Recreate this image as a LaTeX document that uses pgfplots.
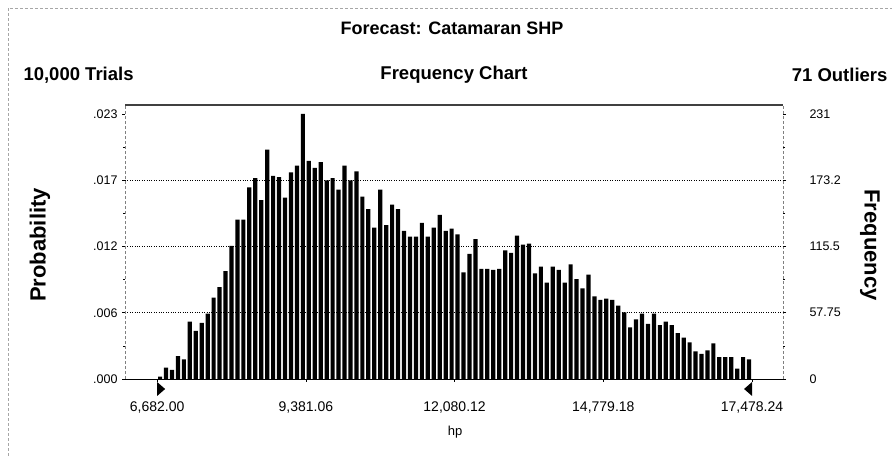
\documentclass[border=0pt]{standalone}
\usepackage{fontspec}
\setmainfont{Liberation Sans}
\usepackage{pgfplots}
\usepackage{pgfplotstable}
\pgfplotsset{compat=1.18}
\pgfplotstableread{
bin freq
1 2
2 10
3 8
4 20
5 17
6 50
7 42
8 49
9 57
10 71
11 80
12 94
13 116
14 139
15 139
16 167
17 175
18 156
19 200
20 177
21 176
22 158
23 180
24 186
25 231
26 190
27 184
28 189
29 173
30 175
31 165
32 186
33 173
34 181
35 159
36 148
37 132
38 165
39 134
40 152
41 148
42 129
43 124
44 124
45 136
46 124
47 132
48 143
49 129
50 131
51 126
52 93
53 109
54 122
55 96
56 96
57 95
58 96
59 112
60 110
61 125
62 117
63 118
64 92
65 98
66 84
67 98
68 95
69 84
70 100
71 87
72 79
73 91
74 72
75 69
76 70
77 69
78 64
79 58
80 45
81 52
82 57
83 48
84 57
85 47
86 50
87 47
88 40
89 36
90 32
91 24
92 22
93 25
94 31
95 19
96 19
97 19
98 9
99 19
100 17
}\freqdata
\begin{document}
\begin{tikzpicture}
\path[use as bounding box] (0pt,0pt) rectangle (895pt,460pt);
\draw[gray!70, densely dashed, line width=0.6pt] (8pt,4pt) -- (8pt,452pt) -- (892pt,452pt);
\node[font=\bfseries\fontsize{18}{21}\selectfont] at (452pt,432pt) {Forecast: Catamaran SHP};
\node[font=\bfseries\fontsize{18.5}{22}\selectfont, anchor=west] at (20pt,385pt) {10,000 Trials};
\node[font=\bfseries\fontsize{18.5}{22}\selectfont] at (454pt,385pt) {Frequency Chart};
\node[font=\bfseries\fontsize{18.5}{22}\selectfont, anchor=east] at (891pt,385pt) {71 Outliers};
\node[font=\bfseries\fontsize{22}{26}\selectfont, rotate=90] at (40pt,215pt) {Probability};
\node[font=\bfseries\fontsize{22}{26}\selectfont, rotate=-90] at (870pt,215pt) {Frequency};
\node[font=\fontsize{13}{15}\selectfont] at (455pt,28pt) {hp};
\begin{axis}[
  at={(125pt,81pt)}, anchor=south west,
  scale only axis, width=658pt, height=274pt,
  xmin=-4.9, xmax=105.7, ymin=0, ymax=238.8,
  axis line style={draw=none},
  ybar, bar width=4.2pt,
  xtick={0.5,25.5,50.5,75.5,100.5},
  xticklabels={{6,682.00},{9,381.06},{12,080.12},{14,779.18},{17,478.24}},
  ytick={0,57.75,115.5,173.25,231},
  yticklabels={.000,.006,.012,.017,.023},
  minor y tick num=1,
  extra y ticks={57.75,115.5,173.25},
  extra y tick labels={},
  extra y tick style={grid=major, major grid style={black, dotted, line width=1pt}, major tick length=0pt},
  tick align=outside,
  major tick length=3pt, minor tick length=2pt,
  tick style={black, line width=0.5pt},
  xtick pos=bottom, ytick pos=left,
  yticklabel style={font=\fontsize{12.5}{14}\selectfont, xshift=-1pt},
  xticklabel style={font=\fontsize{14}{16}\selectfont, yshift=-16pt},
  clip=false,
]
\addplot[fill=black, draw=none] table[x=bin, y=freq] {\freqdata};
\draw[black, line width=0.8pt] (rel axis cs:0,0) -- (rel axis cs:1,0);
\draw[black!75, line width=1.3pt] (rel axis cs:0,1) -- (rel axis cs:1,1);
\draw[gray, line width=0.5pt, densely dashed] (rel axis cs:0,0) -- (rel axis cs:0,1);
\draw[gray, line width=0.5pt, densely dashed] (rel axis cs:1,0) -- (rel axis cs:1,1);
\fill[black] (axis cs:0.5,0) ++(0pt,-3pt) -- ++(0pt,-14pt) -- ++(8pt,7pt) -- cycle;
\fill[black] (axis cs:100.5,0) ++(0pt,-3pt) -- ++(0pt,-14pt) -- ++(-8pt,7pt) -- cycle;
\end{axis}
\begin{axis}[
  at={(125pt,81pt)}, anchor=south west,
  scale only axis, width=658pt, height=274pt,
  xmin=-4.9, xmax=105.7, ymin=0, ymax=238.8,
  axis line style={draw=none},
  axis x line=none,
  ytick={0,57.75,115.5,173.25,231},
  yticklabels={0,57.75,115.5,173.2,231},
  minor y tick num=1,
  tick align=outside,
  major tick length=3pt, minor tick length=2pt,
  tick style={black, line width=0.5pt},
  ytick pos=right,
  yticklabel pos=right,
  yticklabel style={font=\fontsize{12.5}{14}\selectfont, xshift=20pt},
]
\addplot[draw=none] coordinates {(0,0)};
\end{axis}
\end{tikzpicture}
\end{document}
